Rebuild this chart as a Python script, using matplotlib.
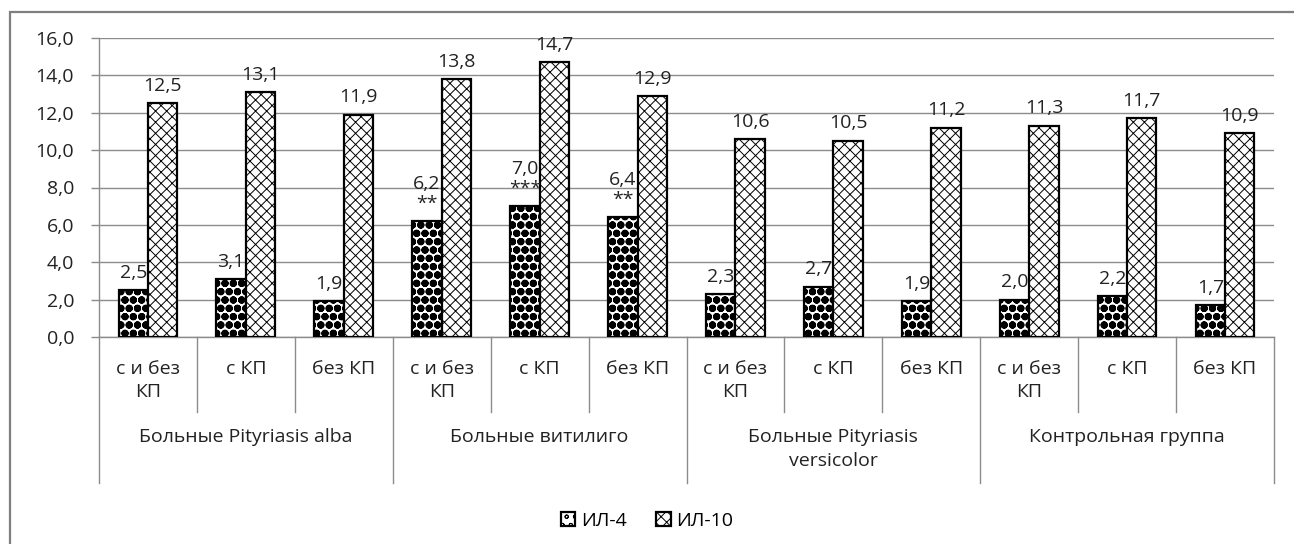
import matplotlib
matplotlib.use("Agg")
import matplotlib.pyplot as plt
import numpy as np

plt.rcParams["font.family"] = ["Open Sans", "Noto Sans", "DejaVu Sans"]

# data
il4 = [2.5, 3.1, 1.9, 6.2, 7.0, 6.4, 2.3, 2.7, 1.9, 2.0, 2.2, 1.7]
il10 = [12.5, 13.1, 11.9, 13.8, 14.7, 12.9, 10.6, 10.5, 11.2, 11.3, 11.7, 10.9]
il4_sig = ["", "", "", "**", "***", "**", "", "", "", "", "", ""]
sub_labels = ["с и без\nКП", "с КП", "без КП"] * 4
groups = ["Больные Pityriasis alba", "Больные витилиго",
          "Больные Pityriasis\nversicolor", "Контрольная группа"]
series = ["ИЛ-4", "ИЛ-10"]

W, H = 1294, 544
FS = 14
GRAY = "#8c8c8c"
INK = "#222222"

fig = plt.figure(figsize=(W / 100, H / 100), dpi=100)
ax = fig.add_axes([99 / W, (H - 337) / H, (1274 - 99) / W, 299 / H])

x = np.arange(len(il4))
bw = 0.3


def bars(xs, vals, hatch, hlw, label):
    plt.rcParams["hatch.linewidth"] = hlw
    bc = ax.bar(xs, vals, bw, facecolor="white", edgecolor="black", hatch=hatch,
                linewidth=1.6, label=label, zorder=3)
    for p in bc.patches:
        if hasattr(p, "set_hatch_linewidth"):
            p.set_hatch_linewidth(hlw)
    return bc


b4 = bars(x - bw / 2, il4, "oo", 2.8, series[0])
b10 = bars(x + bw / 2, il10, "xxx", 0.7, series[1])

fmt = lambda v: f"{v:.1f}".replace(".", ",")
for xi, v, s in zip(x, il4, il4_sig):
    txt = fmt(v) + ("\n" + s if s else "")
    ax.annotate(txt, (xi - bw / 2, v), xytext=(0, 6), textcoords="offset points",
                ha="center", va="bottom", fontsize=FS, color=INK,
                linespacing=1.15, zorder=4)
for xi, v in zip(x, il10):
    ax.annotate(fmt(v), (xi + bw / 2, v), xytext=(0, 6), textcoords="offset points",
                ha="center", va="bottom", fontsize=FS, color=INK, zorder=4)

ax.set_xlim(-0.5, len(il4) - 0.5)
ax.set_ylim(0, 16)
ax.set_yticks(np.arange(0, 17, 2))
ax.set_yticklabels([fmt(v) for v in np.arange(0, 17, 2)], fontsize=FS, color=INK)
ax.set_xticks([])
ax.tick_params(axis="y", direction="out", length=6, width=1, color=GRAY, pad=12)
ax.grid(axis="y", color=GRAY, linewidth=1.0)
ax.set_axisbelow(True)
for s in ("top", "right"):
    ax.spines[s].set_visible(False)
for s in ("left", "bottom"):
    ax.spines[s].set_color(GRAY)
    ax.spines[s].set_linewidth(1.0)

# two-level category axis
tr = ax.get_xaxis_transform()
ah = 299.0
for i in range(len(il4) + 1):
    depth = 483 if i % 3 == 0 else 412
    ax.plot([i - 0.5, i - 0.5], [0, -(depth - 337) / ah], color=GRAY, lw=1.0,
            transform=tr, clip_on=False)
for xi, lab in zip(x, sub_labels):
    ax.text(xi, -(360 - 337) / ah, lab, transform=tr, ha="center", va="top",
            fontsize=FS, color=INK, linespacing=1.35)
for g, lab in enumerate(groups):
    ax.text(3 * g + 1, -(428 - 337) / ah, lab, transform=tr, ha="center", va="top",
            fontsize=FS, color=INK, linespacing=1.45)

fig.legend(handles=[b4, b10], loc="center", bbox_to_anchor=(0.5, 1 - 521 / H),
           ncol=2, frameon=False, fontsize=FS, handlelength=0.75, handleheight=0.75,
           handletextpad=0.3, columnspacing=1.5)

# outer chart frame (left and top edges visible)
fig.add_artist(plt.Rectangle((10 / W, -0.5), 2, 0.5 + 1 - 12 / H,
                             transform=fig.transFigure, fill=False,
                             edgecolor="#7f7f7f", linewidth=1.6))

fig.savefig("out.png", dpi=100)
